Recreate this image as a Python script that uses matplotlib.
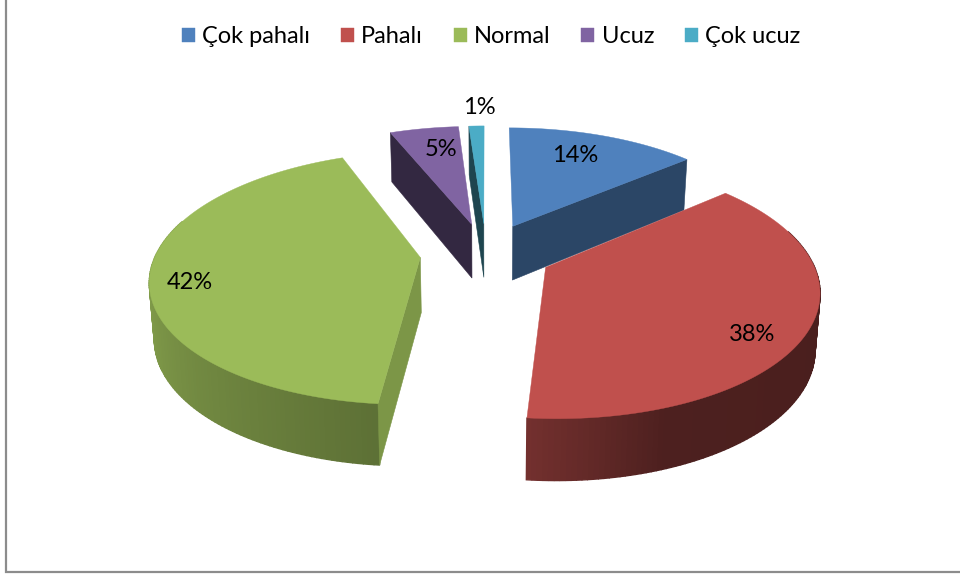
import numpy as np
import matplotlib
matplotlib.use("Agg")
import matplotlib.pyplot as plt
from matplotlib.colors import to_rgb

categories = ["Çok pahalı", "Pahalı", "Normal", "Ucuz", "Çok ucuz"]
values = [13.8, 37.7, 42.4, 5.0, 1.1]
colors = ["#4F81BD", "#C0504D", "#9BBB59", "#8064A2", "#4BACC6"]
cut_shade = [0.54, 0.55, 0.80, 0.40, 0.40]
draw_order = [0, 3, 4, 2, 1]
label_radius = [0.66, 0.72, 0.83, 0.72, 1.16]
label_shift = [(0, -9), (21, 23), (-7, 10), (5, -3), (4, -5)]

# projection of the tilted, exploded pie
CX, CY, A, B, K, DEPTH, KD, M, EXPL = 486, 253, 264, 122, 0.16, 55, 0.10, 0.015, 0.25


def project(u, v, z=0.0):
    u, v = np.asarray(u, float), np.asarray(v, float)
    w = 1 + K * v
    x = CX + A * u / w * (1 - M * z)
    y = CY - B * v / w + DEPTH * z / (1 + KD * v)
    return x, y


def shade(c, f):
    return tuple(min(1, f * ch) for ch in to_rgb(c))


def outer_shade(deg):
    return np.interp(deg % 360, [90, 160, 185, 270, 360], [0.38, 0.40, 0.60, 0.88, 0.9])


plt.rcParams["font.family"] = ["Lato", "DejaVu Sans"]
fig = plt.figure(figsize=(9.6, 5.75), dpi=100)
ax = fig.add_axes([0, 0, 1, 1])
ax.set_xlim(0, 960)
ax.set_ylim(575, 0)
ax.axis("off")

fractions = np.array(values) / sum(values)
edges = np.concatenate([[0], np.cumsum(fractions)]) * 360
handles = {}

for i in draw_order:
    t0, t1 = edges[i], edges[i + 1]
    mid = np.radians((t0 + t1) / 2)
    ou, ov = EXPL * np.sin(mid), EXPL * np.cos(mid)
    th = np.radians(np.linspace(t0, t1, max(int(t1 - t0), 4) + 1))
    u = ou + np.sin(th)
    v = ov + np.cos(th)
    c = colors[i]

    # rim, back to front; the part facing away stays hidden
    order = np.argsort(-(v[:-1] + v[1:]))
    for j in order:
        tm = (th[j] + th[j + 1]) / 2
        if np.cos(tm) > 0.3:
            continue
        xt, yt = project(u[j:j + 2], v[j:j + 2], 0)
        xb, yb = project(u[j:j + 2], v[j:j + 2], 1)
        col = shade(c, outer_shade(np.degrees(tm)))
        ax.fill(np.r_[xt, xb[::-1]], np.r_[yt, yb[::-1]], color=col, lw=1.0, zorder=1)

    # cut faces that look towards the viewer
    for t, nrm in ((th[0], th[0] - np.pi / 2), (th[-1], th[-1] + np.pi / 2)):
        if np.cos(nrm) >= -1e-9:
            continue
        uu = np.array([ou, ou + np.sin(t)])
        vv = np.array([ov, ov + np.cos(t)])
        xt, yt = project(uu, vv, 0)
        xb, yb = project(uu, vv, 1)
        ax.fill(np.r_[xt, xb[::-1]], np.r_[yt, yb[::-1]],
                color=shade(c, cut_shade[i]), lw=0.4, zorder=1)

    # top face
    xt, yt = project(np.r_[ou, u], np.r_[ov, v], 0)
    handles[i] = ax.fill(xt, yt, color=c, lw=0.3, zorder=1, label=categories[i])[0]

    # value label
    lx, ly = project(ou + label_radius[i] * np.sin(mid), ov + label_radius[i] * np.cos(mid), 0)
    ax.text(lx + label_shift[i][0], ly + label_shift[i][1], f"{values[i]:.0f}%",
            fontsize=17, color="black", ha="center", va="center", zorder=5)

ax.legend([handles[i] for i in range(5)], categories, loc="center",
          bbox_to_anchor=(491, 36.5), bbox_transform=ax.transData, ncol=5,
          frameon=False, fontsize=17, handlelength=0.55, handleheight=0.55,
          handletextpad=0.31, columnspacing=1.3, borderpad=0, labelspacing=0)

ax.plot([6, 6, 960], [0, 572, 572], color="#8c8c8c", lw=1.6, solid_joinstyle="miter", zorder=0)

fig.savefig("out.png", dpi=100)
